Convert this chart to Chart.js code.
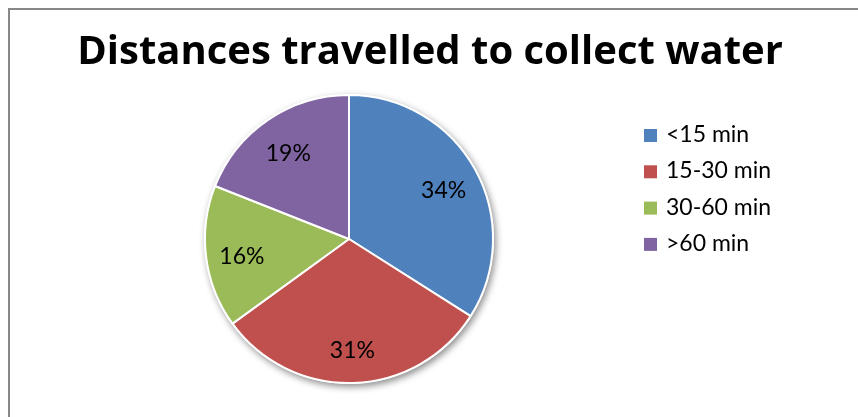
<!DOCTYPE html>
<html lang="en">
<head>
    <meta charset="UTF-8">
    <title>Distances travelled to collect water</title>
    <script src="https://cdn.jsdelivr.net/npm/chart.js"></script>
    <style>
        body {
            margin: 0;
            padding: 0;
            background: #fff;
        }
        .chart-container {
            position: relative;
            width: 858px;
            height: 417px;
        }
        .frame {
            position: absolute;
            left: 8px;
            top: 8px;
            width: 900px;
            height: 500px;
            border: 2px solid #878787;
            box-sizing: border-box;
        }
        canvas {
            position: absolute;
            left: 0;
            top: 0;
        }
    </style>
</head>
<body>
    <div class="chart-container">
        <div class="frame"></div>
        <canvas id="pieChart" width="858" height="417"></canvas>
    </div>

    <script>
        const titleText = 'Distances travelled to collect water';
        const categories = ['<15 min', '15-30 min', '30-60 min', '>60 min'];
        const shares = [34, 31, 16, 19];
        const sliceColors = ['#4F81BD', '#C0504D', '#9BBB59', '#8064A2'];

        const titleFont = 'bold 40px "Open Sans", Lato, sans-serif';
        const textFont = '23px Lato, "Open Sans", sans-serif';

        // soft shadow under the whole pie, drawn before the slices
        const pieShadow = {
            id: 'pieShadow',
            beforeDatasetsDraw(chart) {
                const arc = chart.getDatasetMeta(0).data[0];
                if (!arc) return;
                const ctx = chart.ctx;
                ctx.save();
                ctx.shadowColor = 'rgba(0, 0, 0, 0.45)';
                ctx.shadowBlur = 7;
                ctx.shadowOffsetX = 2;
                ctx.shadowOffsetY = 3;
                ctx.fillStyle = '#fff';
                ctx.beginPath();
                ctx.arc(arc.x, arc.y, arc.outerRadius + 1, 0, Math.PI * 2);
                ctx.fill();
                ctx.restore();
            }
        };

        // title, percentage labels and the legend on the right
        const pieText = {
            id: 'pieText',
            afterDraw(chart) {
                const ctx = chart.ctx;
                ctx.save();

                ctx.fillStyle = '#000';
                ctx.font = titleFont;
                ctx.textAlign = 'center';
                ctx.textBaseline = 'alphabetic';
                ctx.fillText(titleText, 430, 64);

                // percentages sit at 3/4 of the radius on each slice's mid angle
                ctx.font = textFont;
                const meta = chart.getDatasetMeta(0);
                meta.data.forEach((arc, i) => {
                    const mid = (arc.startAngle + arc.endAngle) / 2;
                    const r = arc.outerRadius * 0.75;
                    ctx.fillText(shares[i] + '%', arc.x + Math.cos(mid) * r, arc.y + Math.sin(mid) * r + 11);
                });

                ctx.textAlign = 'left';
                categories.forEach((label, i) => {
                    const base = 142 + i * 36.3;
                    ctx.fillStyle = sliceColors[i];
                    ctx.fillRect(644, base - 13, 13, 13);
                    ctx.fillStyle = '#000';
                    ctx.fillText(label, 666, base);
                });
                ctx.restore();
            }
        };

        const ctx = document.getElementById('pieChart').getContext('2d');
        const pieChart = new Chart(ctx, {
            type: 'pie',
            data: {
                labels: categories,
                datasets: [{
                    data: shares,
                    backgroundColor: sliceColors,
                    borderColor: '#fff',
                    borderWidth: 2
                }]
            },
            options: {
                responsive: false,
                animation: false,
                layout: {
                    padding: { left: 204, right: 364, top: 94, bottom: 33 }
                },
                plugins: {
                    legend: { display: false },
                    title: { display: false },
                    tooltip: { enabled: false }
                }
            },
            plugins: [pieShadow, pieText]
        });
    </script>
</body>
</html>
